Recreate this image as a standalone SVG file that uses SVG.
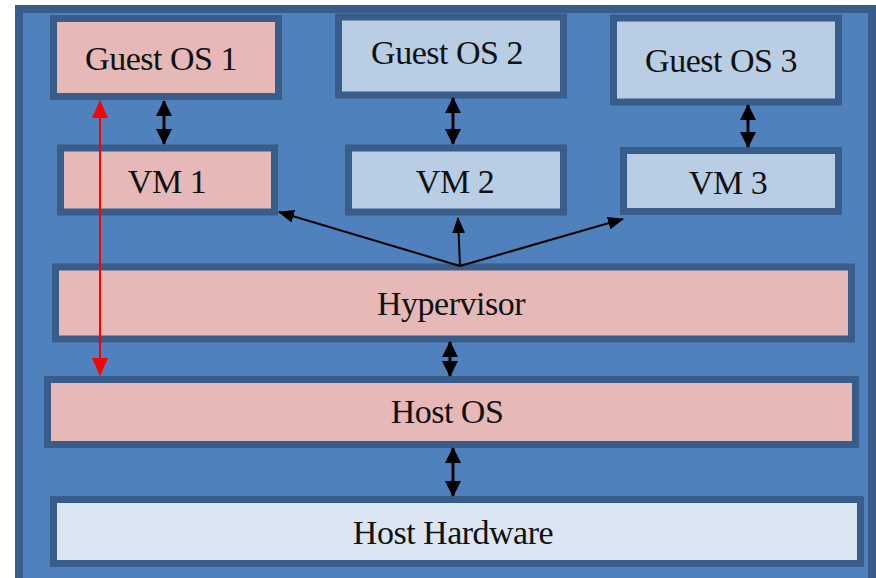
<svg xmlns="http://www.w3.org/2000/svg" width="876" height="578" viewBox="0 0 876 578">
<style>
.box{stroke:#385d8a;stroke-width:7}
.pink{fill:#e6b9b8}
.blue{fill:#b9cde5}
.hw{fill:#dce6f2}
text{font-family:"Liberation Serif","Times New Roman",serif;font-size:34px;fill:#111;text-anchor:middle;letter-spacing:-0.5px}
.blk{stroke:#000;stroke-width:3;fill:none}
.thin{stroke:#000;stroke-width:2;fill:none}
.red{stroke:#ff0000;stroke-width:2;fill:none}
</style>
<defs>
<marker id="ah" markerUnits="userSpaceOnUse" markerWidth="16" markerHeight="16" viewBox="0 0 16 16" refX="15" refY="8" orient="auto-start-reverse">
<path d="M0,0 L16,8 L0,16 Z" fill="#000"/>
</marker>
<marker id="ahs" markerUnits="userSpaceOnUse" markerWidth="16" markerHeight="13" viewBox="0 0 16 13" refX="15" refY="6.5" orient="auto">
<path d="M0,0 L16,6.5 L0,13 Z" fill="#000"/>
</marker>
<marker id="ahr" markerUnits="userSpaceOnUse" markerWidth="18" markerHeight="16" viewBox="0 0 18 16" refX="17" refY="8" orient="auto-start-reverse">
<path d="M0,0 L18,8 L0,16 Z" fill="#ff0000"/>
</marker>
</defs>
<rect width="876" height="578" fill="#ffffff"/>
<rect id="frame" x="19" y="9" width="853" height="580" fill="#4f81bd" stroke="#385d8a" stroke-width="8"/>
<g id="guest1"><rect class="box pink" x="53.5" y="18.5" width="225" height="78"/><text x="161" y="70">Guest OS 1</text></g>
<g id="guest2"><rect class="box blue" x="338.5" y="17" width="225" height="78"/><text x="447" y="64">Guest OS 2</text></g>
<g id="guest3"><rect class="box blue" x="613.5" y="18" width="225" height="84"/><text x="721" y="72">Guest OS 3</text></g>
<g id="vm1"><rect class="box pink" x="60.5" y="148" width="214" height="64"/><text x="167" y="193">VM 1</text></g>
<g id="vm2"><rect class="box blue" x="348.5" y="148" width="215" height="64"/><text x="455" y="193">VM 2</text></g>
<g id="vm3"><rect class="box blue" x="623.5" y="150.5" width="215" height="61"/><text x="728" y="194">VM 3</text></g>
<g id="hypervisor"><rect class="box pink" x="55.5" y="267" width="796" height="72"/><text x="451" y="315">Hypervisor</text></g>
<g id="hostos"><rect class="box pink" x="47.5" y="379.5" width="808" height="65"/><text x="447" y="423">Host OS</text></g>
<g id="hardware"><rect class="box hw" x="53.5" y="499.5" width="807" height="64"/><text x="453" y="544">Host Hardware</text></g>
<g id="connectors">
<line class="blk" x1="164" y1="101" x2="164" y2="144" marker-start="url(#ah)" marker-end="url(#ah)"/>
<line class="blk" x1="453" y1="98" x2="453" y2="144" marker-start="url(#ah)" marker-end="url(#ah)"/>
<line class="blk" x1="748" y1="105" x2="748" y2="147" marker-start="url(#ah)" marker-end="url(#ah)"/>
<line class="blk" x1="450" y1="342" x2="450" y2="376" marker-start="url(#ah)" marker-end="url(#ah)"/>
<line class="blk" x1="453" y1="448" x2="453" y2="496" marker-start="url(#ah)" marker-end="url(#ah)"/>
<line class="thin" x1="460" y1="266" x2="279" y2="212" marker-end="url(#ahs)"/>
<line class="thin" x1="460" y1="266" x2="458" y2="218" marker-end="url(#ahs)"/>
<line class="thin" x1="460" y1="266" x2="623" y2="219" marker-end="url(#ahs)"/>
<line class="red" x1="100" y1="101" x2="100" y2="375" marker-start="url(#ahr)" marker-end="url(#ahr)"/>
</g>
</svg>
